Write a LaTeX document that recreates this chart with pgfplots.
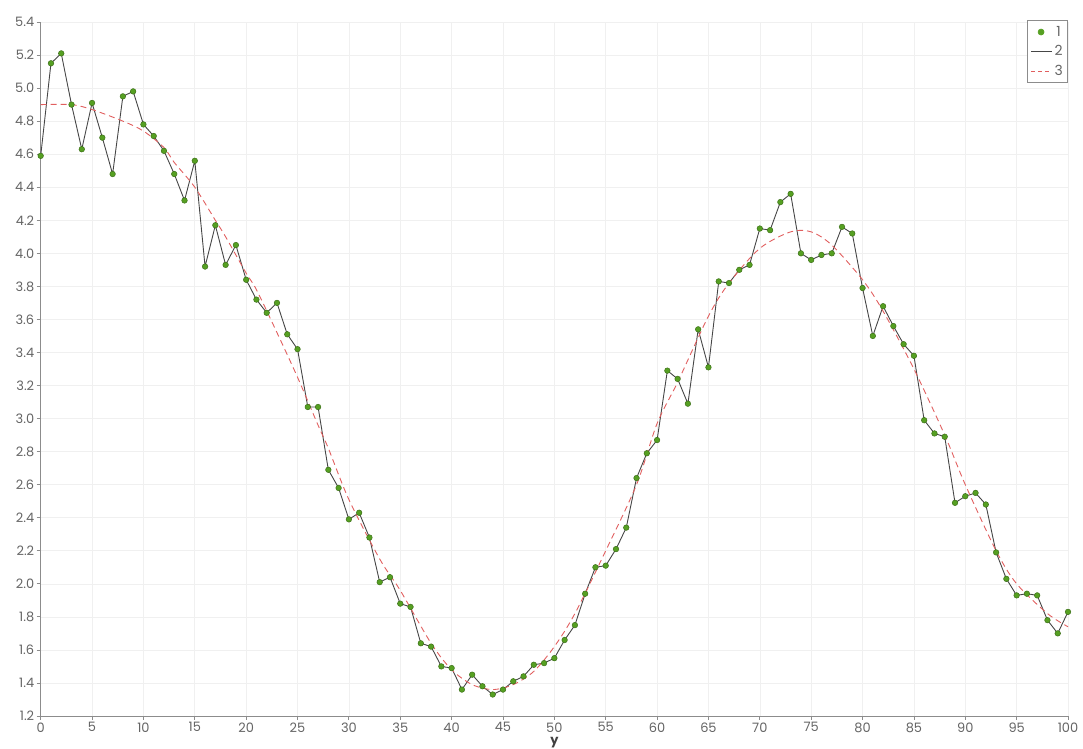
\documentclass[border=0pt]{standalone}
\usepackage{fontspec}
\setmainfont{Poppins}
\usepackage{pgfplots}
\usepackage{pgfplotstable}
\pgfplotsset{compat=1.18}
\definecolor{mk}{RGB}{86,160,34}
\definecolor{ln}{RGB}{70,70,70}
\definecolor{rd}{RGB}{225,95,95}
\definecolor{tx}{RGB}{100,100,100}
\definecolor{gr}{RGB}{240,240,240}
\definecolor{axc}{RGB}{140,140,140}
\pgfplotsset{marklegend/.style={legend image code/.code={\fill[mk] (10bp,0bp) circle (3bp);}}}
\pgfplotstableread{
x y
0 4.59
1 5.15
2 5.21
3 4.90
4 4.63
5 4.91
6 4.70
7 4.48
8 4.95
9 4.98
10 4.78
11 4.71
12 4.62
13 4.48
14 4.32
15 4.56
16 3.92
17 4.17
18 3.93
19 4.05
20 3.84
21 3.72
22 3.64
23 3.70
24 3.51
25 3.42
26 3.07
27 3.07
28 2.69
29 2.58
30 2.39
31 2.43
32 2.28
33 2.01
34 2.04
35 1.88
36 1.86
37 1.64
38 1.62
39 1.50
40 1.49
41 1.36
42 1.45
43 1.38
44 1.33
45 1.36
46 1.41
47 1.44
48 1.51
49 1.52
50 1.55
51 1.66
52 1.75
53 1.94
54 2.10
55 2.11
56 2.21
57 2.34
58 2.64
59 2.79
60 2.87
61 3.29
62 3.24
63 3.09
64 3.54
65 3.31
66 3.83
67 3.82
68 3.90
69 3.93
70 4.15
71 4.14
72 4.31
73 4.36
74 4.00
75 3.96
76 3.99
77 4.00
78 4.16
79 4.12
80 3.79
81 3.50
82 3.68
83 3.56
84 3.45
85 3.38
86 2.99
87 2.91
88 2.89
89 2.49
90 2.53
91 2.55
92 2.48
93 2.19
94 2.03
95 1.93
96 1.94
97 1.93
98 1.78
99 1.70
100 1.83
}\dataA
\pgfplotstableread{
x y
0 4.90
3 4.90
5 4.87
8 4.80
10 4.74
12 4.64
13 4.55
15 4.40
17 4.20
18 4.10
20 3.88
21 3.78
23 3.52
25 3.25
27 2.96
28 2.82
30 2.51
33 2.15
35 1.96
38 1.64
40 1.48
42 1.39
44 1.36
46 1.39
48 1.47
50 1.62
52 1.82
55 2.20
58 2.60
60 2.97
62 3.22
65 3.62
67 3.82
70 4.03
73 4.13
75 4.13
77 4.05
80 3.84
82 3.65
85 3.30
88 2.90
90 2.60
93 2.20
95 2.00
98 1.82
100 1.74
}\dataB
\begin{document}
\begin{tikzpicture}[x=1bp,y=1bp]
\path[use as bounding box] (0,0) rectangle (1083,749);
\begin{axis}[
  at={(40.7bp,33bp)}, anchor=south west,
  scale only axis, width=1027.3bp, height=694bp,
  xmin=0, xmax=100, ymin=1.2, ymax=5.4,
  xtick={0,5,10,15,20,25,30,35,40,45,50,55,60,65,70,75,80,85,90,95,100},
  ytick={1.2,1.4,1.6,1.8,2.0,2.2,2.4,2.6,2.8,3.0,3.2,3.4,3.6,3.8,4.0,4.2,4.4,4.6,4.8,5.0,5.2,5.4},
  yticklabel style={/pgf/number format/fixed, /pgf/number format/fixed zerofill, /pgf/number format/precision=1},
  /pgf/number format/assume math mode=true,
  axis lines*=left,
  axis line style={axc, line width=0.9bp},
  tick style={axc, line width=0.8bp},
  tick align=outside, major tick length=4bp,
  grid=major, major grid style={gr, line width=0.6bp},
  ticklabel style={font=\fontsize{13}{14}\selectfont, text=tx},
  xticklabel style={yshift=1bp},
  yticklabel style={xshift=1bp},
  xlabel={y}, xlabel style={at={(axis description cs:0.5,0)}, anchor=center, yshift=-27bp, font=\fontsize{13}{14}\selectfont\bfseries, text=black!75},
  legend style={at={(1,1)}, yshift=2bp, anchor=north east, draw=axc, line width=0.6bp, font=\fontsize{14}{15}\selectfont, text=tx, inner xsep=3bp, inner ysep=2bp, row sep=0bp, nodes={inner ysep=0bp, minimum height=19.5bp}, /tikz/every even column/.append style={column sep=3bp}},
  legend image code/.code={\draw[#1] (0bp,0bp) -- (21bp,0bp);},
]
\addplot[ln, line width=0.9bp, forget plot] table {\dataA};
\addplot[rd, line width=0.9bp, dash pattern=on 6bp off 4bp, smooth, forget plot] table {\dataB};
\addplot[only marks, mark=*, mark size=2.8bp, mark options={fill=mk, draw=mk!70!black, line width=0.5bp}, forget plot] table {\dataA};
\addlegendimage{marklegend}
\addlegendentry{1}
\addlegendimage{ln, line width=0.9bp}
\addlegendentry{2}
\addlegendimage{rd, line width=0.9bp, dash pattern=on 4bp off 3bp}
\addlegendentry{3}
\end{axis}
\end{tikzpicture}
\end{document}
